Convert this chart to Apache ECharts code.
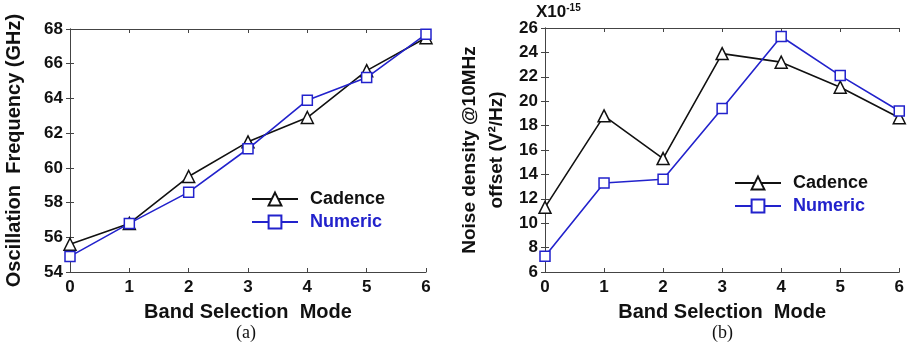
<!DOCTYPE html>
<html>
<head>
<meta charset="utf-8">
<script src="https://cdn.jsdelivr.net/npm/echarts@6/dist/echarts.min.js"></script>
<style>
  html, body { margin: 0; padding: 0; background: #fff; }
  #chart { width: 907px; height: 349px; }
</style>
</head>
<body>
<div id="chart"></div>
<script>
// band selection modes
var modes = [0, 1, 2, 3, 4, 5, 6];

// (a) oscillation frequency, GHz
var freqCadence = [55.6, 56.8, 59.5, 61.5, 62.9, 65.6, 67.5];
var freqNumeric = [54.9, 56.8, 58.6, 61.1, 63.9, 65.2, 67.7];

// (b) noise density, x1e-15 V^2/Hz
var noiseCadence = [11.3, 18.8, 15.3, 23.9, 23.2, 21.15, 18.65];
var noiseNumeric = [7.3, 13.3, 13.6, 19.4, 25.3, 22.1, 19.2];

var black = '#111111';
var blue = '#2222cc';
var fontFam = '"Liberation Sans", Arial, sans-serif';

function pairs(ys) {
  return modes.map(function (x, i) { return [x, ys[i]]; });
}

var tickLbl = { color: black, fontFamily: fontFam, fontWeight: 'bold', fontSize: 17 };

function bottomAxis(gi, name) {
  return {
    type: 'value', gridIndex: gi, min: 0, max: 6, interval: 1,
    name: name, nameLocation: 'middle', nameGap: 30,
    nameTextStyle: { color: black, fontFamily: fontFam, fontWeight: 'bold', fontSize: 20 },
    axisLine: { lineStyle: { color: '#444', width: 1 } },
    axisTick: { inside: true, length: 4, lineStyle: { color: '#444' } },
    axisLabel: Object.assign({ margin: 7 }, tickLbl),
    splitLine: { show: false }
  };
}
function topAxis(gi) {
  return {
    type: 'value', gridIndex: gi, position: 'top', min: 0, max: 6, interval: 1,
    axisLine: { lineStyle: { color: '#444', width: 1 } },
    axisTick: { inside: true, length: 4, lineStyle: { color: '#444' } },
    axisLabel: { show: false }, splitLine: { show: false }
  };
}
function leftAxis(gi, min, max, name, gap, size) {
  return {
    type: 'value', gridIndex: gi, min: min, max: max, interval: 2,
    name: name, nameLocation: 'middle', nameGap: gap, nameRotate: 90,
    nameTextStyle: { color: black, fontFamily: fontFam, fontWeight: 'bold', fontSize: size, lineHeight: 27 },
    axisLine: { show: true, lineStyle: { color: '#444', width: 1 } },
    axisTick: { show: true, inside: true, length: 4, lineStyle: { color: '#444' } },
    axisLabel: Object.assign({ margin: 7 }, tickLbl),
    splitLine: { show: false }
  };
}
function rightAxis(gi, min, max) {
  return {
    type: 'value', gridIndex: gi, position: 'right', min: min, max: max, interval: 2,
    axisLine: { show: true, lineStyle: { color: '#444', width: 1 } },
    axisTick: { show: true, inside: true, length: 4, lineStyle: { color: '#444' } },
    axisLabel: { show: false }, splitLine: { show: false }
  };
}

function lineSeries(name, data, gi, color, symbol, size) {
  return {
    name: name, type: 'line', data: pairs(data),
    xAxisIndex: gi * 2, yAxisIndex: gi * 2,
    symbol: symbol, symbolSize: size, showSymbol: true,
    lineStyle: { color: color, width: 1.6 },
    itemStyle: { color: '#fff', borderColor: color, borderWidth: 1.5 },
    emphasis: { disabled: true }, animation: false
  };
}

var legendText = { fontFamily: fontFam, fontWeight: 'bold', fontSize: 18 };
function legendFor(left, top) {
  return {
    left: left, top: top, orient: 'vertical', itemGap: 5,
    itemWidth: 46, itemHeight: 16,
    textStyle: Object.assign({ color: black, padding: [0, 0, 0, 7] }, legendText),
    data: [
      { name: 'Cadence', textStyle: { color: black } },
      { name: 'Numeric', textStyle: { color: blue } }
    ]
  };
}

var chart = echarts.init(document.getElementById('chart'), null, { renderer: 'canvas' });
chart.setOption({
  backgroundColor: '#fff',
  animation: false,
  grid: [
    { left: 69, top: 29, width: 357, height: 243 },
    { left: 545, top: 28, width: 358, height: 244 }
  ],
  xAxis: [
    bottomAxis(0, 'Band Selection  Mode'), topAxis(0),
    bottomAxis(1, 'Band Selection  Mode'), topAxis(1)
  ],
  yAxis: [
    leftAxis(0, 54, 68, 'Oscillation  Frequency (GHz)', 42, 20), rightAxis(0, 54, 68),
    leftAxis(1, 6, 26, 'Noise density @10MHz\noffset (V\u00b2/Hz)', 35, 19), rightAxis(1, 6, 26)
  ],
  legend: [
    legendFor(246, 185),
    legendFor(729, 169)
  ],
  series: [
    lineSeries('Cadence', freqCadence, 0, black, 'triangle', 12),
    lineSeries('Numeric', freqNumeric, 0, blue, 'rect', 10),
    lineSeries('Cadence', noiseCadence, 1, black, 'triangle', 12),
    lineSeries('Numeric', noiseNumeric, 1, blue, 'rect', 10)
  ],
  graphic: [
    {
      type: 'text', left: 536, top: 3,
      style: {
        text: '{b|X10}{s|-15}',
        rich: {
          b: { fontFamily: fontFam, fontWeight: 'bold', fontSize: 17, fill: black },
          s: { fontFamily: fontFam, fontWeight: 'bold', fontSize: 10, fill: black, verticalAlign: 'top', padding: [0, 0, 8, 0] }
        }
      }
    },
    {
      type: 'text', left: 236, top: 324,
      style: { text: '(a)', fontFamily: '"Liberation Serif", "Times New Roman", serif', fontSize: 18, fill: black }
    },
    {
      type: 'text', left: 712, top: 324,
      style: { text: '(b)', fontFamily: '"Liberation Serif", "Times New Roman", serif', fontSize: 18, fill: black }
    }
  ]
});
</script>
</body>
</html>
